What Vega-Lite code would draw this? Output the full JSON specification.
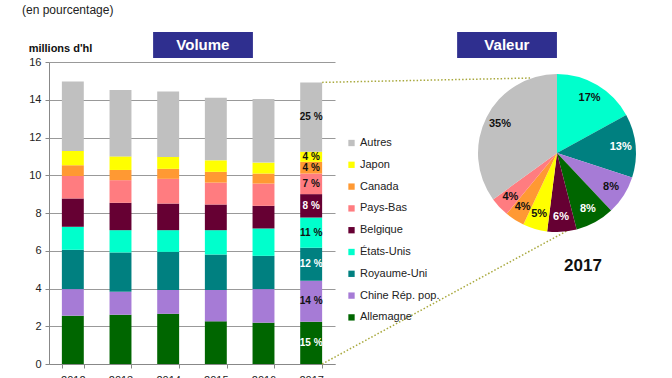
{
  "$schema": "https://vega.github.io/schema/vega-lite/v6.json",
  "padding": {"left": 22, "top": 3, "right": 5, "bottom": 0},
  "config": {
    "font": "Liberation Sans",
    "view": {"stroke": null}
  },
  "title": {"text": "(en pourcentage)", "anchor": "start", "frame": "group", "dx": -27, "offset": 15, "fontSize": 12, "fontWeight": "normal", "color": "#222"},
  "bounds": "flush",
  "spacing": 131,
  "resolve": {"scale": {"color": "independent"}, "legend": {"color": "independent"}},
  "datasets": {
    "volumes": [
      {"annee": "2012", "pays": "Allemagne", "rang": 1, "volume": 2.56, "etiquette": ""},
      {"annee": "2012", "pays": "Chine Rép. pop.", "rang": 2, "volume": 1.41, "etiquette": ""},
      {"annee": "2012", "pays": "Royaume-Uni", "rang": 3, "volume": 2.08, "etiquette": ""},
      {"annee": "2012", "pays": "États-Unis", "rang": 4, "volume": 1.22, "etiquette": ""},
      {"annee": "2012", "pays": "Belgique", "rang": 5, "volume": 1.5, "etiquette": ""},
      {"annee": "2012", "pays": "Pays-Bas", "rang": 6, "volume": 1.19, "etiquette": ""},
      {"annee": "2012", "pays": "Canada", "rang": 7, "volume": 0.57, "etiquette": ""},
      {"annee": "2012", "pays": "Japon", "rang": 8, "volume": 0.76, "etiquette": ""},
      {"annee": "2012", "pays": "Autres", "rang": 9, "volume": 3.68, "etiquette": ""},
      {"annee": "2013", "pays": "Allemagne", "rang": 1, "volume": 2.61, "etiquette": ""},
      {"annee": "2013", "pays": "Chine Rép. pop.", "rang": 2, "volume": 1.22, "etiquette": ""},
      {"annee": "2013", "pays": "Royaume-Uni", "rang": 3, "volume": 2.08, "etiquette": ""},
      {"annee": "2013", "pays": "États-Unis", "rang": 4, "volume": 1.18, "etiquette": ""},
      {"annee": "2013", "pays": "Belgique", "rang": 5, "volume": 1.45, "etiquette": ""},
      {"annee": "2013", "pays": "Pays-Bas", "rang": 6, "volume": 1.2, "etiquette": ""},
      {"annee": "2013", "pays": "Canada", "rang": 7, "volume": 0.54, "etiquette": ""},
      {"annee": "2013", "pays": "Japon", "rang": 8, "volume": 0.72, "etiquette": ""},
      {"annee": "2013", "pays": "Autres", "rang": 9, "volume": 3.51, "etiquette": ""},
      {"annee": "2014", "pays": "Allemagne", "rang": 1, "volume": 2.66, "etiquette": ""},
      {"annee": "2014", "pays": "Chine Rép. pop.", "rang": 2, "volume": 1.26, "etiquette": ""},
      {"annee": "2014", "pays": "Royaume-Uni", "rang": 3, "volume": 2.02, "etiquette": ""},
      {"annee": "2014", "pays": "États-Unis", "rang": 4, "volume": 1.15, "etiquette": ""},
      {"annee": "2014", "pays": "Belgique", "rang": 5, "volume": 1.41, "etiquette": ""},
      {"annee": "2014", "pays": "Pays-Bas", "rang": 6, "volume": 1.31, "etiquette": ""},
      {"annee": "2014", "pays": "Canada", "rang": 7, "volume": 0.53, "etiquette": ""},
      {"annee": "2014", "pays": "Japon", "rang": 8, "volume": 0.63, "etiquette": ""},
      {"annee": "2014", "pays": "Autres", "rang": 9, "volume": 3.47, "etiquette": ""},
      {"annee": "2015", "pays": "Allemagne", "rang": 1, "volume": 2.26, "etiquette": ""},
      {"annee": "2015", "pays": "Chine Rép. pop.", "rang": 2, "volume": 1.66, "etiquette": ""},
      {"annee": "2015", "pays": "Royaume-Uni", "rang": 3, "volume": 1.88, "etiquette": ""},
      {"annee": "2015", "pays": "États-Unis", "rang": 4, "volume": 1.29, "etiquette": ""},
      {"annee": "2015", "pays": "Belgique", "rang": 5, "volume": 1.36, "etiquette": ""},
      {"annee": "2015", "pays": "Pays-Bas", "rang": 6, "volume": 1.16, "etiquette": ""},
      {"annee": "2015", "pays": "Canada", "rang": 7, "volume": 0.57, "etiquette": ""},
      {"annee": "2015", "pays": "Japon", "rang": 8, "volume": 0.61, "etiquette": ""},
      {"annee": "2015", "pays": "Autres", "rang": 9, "volume": 3.32, "etiquette": ""},
      {"annee": "2016", "pays": "Allemagne", "rang": 1, "volume": 2.19, "etiquette": ""},
      {"annee": "2016", "pays": "Chine Rép. pop.", "rang": 2, "volume": 1.78, "etiquette": ""},
      {"annee": "2016", "pays": "Royaume-Uni", "rang": 3, "volume": 1.76, "etiquette": ""},
      {"annee": "2016", "pays": "États-Unis", "rang": 4, "volume": 1.45, "etiquette": ""},
      {"annee": "2016", "pays": "Belgique", "rang": 5, "volume": 1.2, "etiquette": ""},
      {"annee": "2016", "pays": "Pays-Bas", "rang": 6, "volume": 1.18, "etiquette": ""},
      {"annee": "2016", "pays": "Canada", "rang": 7, "volume": 0.53, "etiquette": ""},
      {"annee": "2016", "pays": "Japon", "rang": 8, "volume": 0.58, "etiquette": ""},
      {"annee": "2016", "pays": "Autres", "rang": 9, "volume": 3.37, "etiquette": ""},
      {"annee": "2017", "pays": "Allemagne", "rang": 1, "volume": 2.24, "etiquette": "15 %"},
      {"annee": "2017", "pays": "Chine Rép. pop.", "rang": 2, "volume": 2.17, "etiquette": "14 %"},
      {"annee": "2017", "pays": "Royaume-Uni", "rang": 3, "volume": 1.75, "etiquette": "12 %"},
      {"annee": "2017", "pays": "États-Unis", "rang": 4, "volume": 1.6, "etiquette": "11 %"},
      {"annee": "2017", "pays": "Belgique", "rang": 5, "volume": 1.24, "etiquette": "8 %"},
      {"annee": "2017", "pays": "Pays-Bas", "rang": 6, "volume": 1.09, "etiquette": "7 %"},
      {"annee": "2017", "pays": "Canada", "rang": 7, "volume": 0.62, "etiquette": "4 %"},
      {"annee": "2017", "pays": "Japon", "rang": 8, "volume": 0.54, "etiquette": "4 %"},
      {"annee": "2017", "pays": "Autres", "rang": 9, "volume": 3.67, "etiquette": "25 %"}
    ],
    "valeurs": [
      {"pays": "États-Unis", "rang": 1, "part": 17, "etiquette": "17%"},
      {"pays": "Royaume-Uni", "rang": 2, "part": 13, "etiquette": "13%"},
      {"pays": "Chine Rép. pop.", "rang": 3, "part": 8, "etiquette": "8%"},
      {"pays": "Allemagne", "rang": 4, "part": 8, "etiquette": "8%"},
      {"pays": "Belgique", "rang": 5, "part": 6, "etiquette": "6%"},
      {"pays": "Japon", "rang": 6, "part": 5, "etiquette": "5%"},
      {"pays": "Canada", "rang": 7, "part": 4, "etiquette": "4%"},
      {"pays": "Pays-Bas", "rang": 8, "part": 4, "etiquette": "4%"},
      {"pays": "Autres", "rang": 9, "part": 35, "etiquette": "35%"}
    ]
  },
  "hconcat": [
    {
      "width": 286,
      "height": 302,
      "resolve": {"scale": {"x": "independent", "y": "independent"}, "axis": {"x": "independent", "y": "independent"}},
      "layer": [
        {
          "data": {"name": "volumes"},
          "encoding": {
            "x": {"field": "annee", "type": "nominal", "scale": {"paddingInner": 0.54, "paddingOuter": 0.27},
              "axis": {"title": null, "labelAngle": 0, "tickBand": "extent", "labelFontSize": 11, "labelColor": "#222", "domainColor": "#888", "tickColor": "#888", "tickSize": 4, "labelPadding": 6}},
            "order": {"field": "rang", "type": "quantitative"}
          },
          "layer": [
            {
              "mark": {"type": "bar"},
              "encoding": {
                "y": {"field": "volume", "type": "quantitative", "stack": "zero", "scale": {"domain": [0, 16], "nice": false},
                  "axis": {"title": "millions d'hl", "titleAngle": 0, "titleAlign": "center", "titleBaseline": "middle", "titleX": 11, "titleY": -14, "titleFontSize": 11, "titleFontWeight": "bold", "titleColor": "#111",
                    "values": [0, 2, 4, 6, 8, 10, 12, 14, 16], "tickCount": 12, "labelOverlap": false, "grid": true, "gridColor": "#999", "domainColor": "#888", "tickColor": "#888", "tickSize": 4, "labelFontSize": 11, "labelColor": "#222", "labelPadding": 4}},
                "color": {"field": "pays", "type": "nominal",
                  "scale": {"domain": ["Autres", "Japon", "Canada", "Pays-Bas", "Belgique", "États-Unis", "Royaume-Uni", "Chine Rép. pop.", "Allemagne"],
                            "range": ["#C0C0C0", "#FFFF00", "#FF9933", "#FF7C80", "#660033", "#00FFCC", "#008080", "#A67BD6", "#006600"]},
                  "legend": {"title": null, "orient": "none", "legendX": 297, "legendY": 75.5, "symbolType": "square", "symbolSize": 40, "symbolStrokeWidth": 0, "symbolOpacity": 1, "labelFontSize": 11, "labelColor": "#222", "rowPadding": 9.8, "labelOffset": 3}}
              }
            },
            {
              "mark": {"type": "text", "fontSize": 10, "fontWeight": "bold"},
              "encoding": {
                "y": {"field": "volume", "type": "quantitative", "stack": "zero", "bandPosition": 0.5, "scale": {"domain": [0, 16], "nice": false}},
                "detail": {"field": "pays"},
                "text": {"field": "etiquette"},
                "color": {"condition": {"test": "datum.pays === 'Belgique' || datum.pays === 'Royaume-Uni' || datum.pays === 'Allemagne'", "value": "#ffffff"}, "value": "#111111"}
              }
            }
          ]
        },
        {
          "data": {"values": [{}]},
          "layer": [
            {
              "mark": {"type": "rect", "color": "#2F2F8F"},
              "encoding": {
                "x": {"datum": 0.364, "type": "quantitative", "scale": {"domain": [0, 1]}, "axis": null},
                "x2": {"datum": 0.713},
                "y": {"datum": 16.21, "type": "quantitative", "scale": {"domain": [0, 16]}, "axis": null},
                "y2": {"datum": 17.59}
              }
            },
            {
              "mark": {"type": "rect", "color": "#2F2F8F"},
              "encoding": {
                "x": {"datum": 1.427, "type": "quantitative", "axis": null},
                "x2": {"datum": 1.776},
                "y": {"datum": 16.21, "type": "quantitative", "axis": null},
                "y2": {"datum": 17.59}
              }
            },
            {
              "mark": {"type": "text", "color": "#ffffff", "fontSize": 15, "fontWeight": "bold"},
              "encoding": {
                "x": {"datum": 0.538, "type": "quantitative", "axis": null},
                "y": {"datum": 16.9, "type": "quantitative", "axis": null},
                "text": {"value": "Volume"}
              }
            },
            {
              "mark": {"type": "text", "color": "#ffffff", "fontSize": 15, "fontWeight": "bold"},
              "encoding": {
                "x": {"datum": 1.601, "type": "quantitative", "axis": null},
                "y": {"datum": 16.9, "type": "quantitative", "axis": null},
                "text": {"value": "Valeur"}
              }
            },
            {
              "mark": {"type": "rule", "color": "#A8A83C", "strokeWidth": 1.5, "strokeDash": [1.5, 2]},
              "encoding": {
                "x": {"datum": 0.955, "type": "quantitative", "axis": null},
                "y": {"datum": 14.92, "type": "quantitative", "axis": null},
                "x2": {"datum": 1.682},
                "y2": {"datum": 15.15}
              }
            },
            {
              "mark": {"type": "rule", "color": "#A8A83C", "strokeWidth": 1.5, "strokeDash": [1.5, 2]},
              "encoding": {
                "x": {"datum": 0.955, "type": "quantitative", "axis": null},
                "y": {"datum": 0, "type": "quantitative", "axis": null},
                "x2": {"datum": 1.829},
                "y2": {"datum": 7.2}
              }
            }
          ]
        }
      ]
    },
    {
      "width": 182,
      "height": 182,
      "data": {"name": "valeurs"},
      "title": {"text": "2017", "orient": "bottom", "fontSize": 17, "fontWeight": "bold", "color": "#111", "dx": 26, "offset": 14},
      "encoding": {
        "theta": {"field": "part", "type": "quantitative", "stack": true},
        "order": {"field": "rang", "type": "quantitative"}
      },
      "layer": [
        {
          "mark": {"type": "arc", "outerRadius": 79},
          "encoding": {
            "color": {"field": "pays", "type": "nominal",
              "scale": {"domain": ["Autres", "Japon", "Canada", "Pays-Bas", "Belgique", "États-Unis", "Royaume-Uni", "Chine Rép. pop.", "Allemagne"],
                        "range": ["#C0C0C0", "#FFFF00", "#FF9933", "#FF7C80", "#660033", "#00FFCC", "#008080", "#A67BD6", "#006600"]},
              "legend": null}
          }
        },
        {
          "mark": {"type": "text", "radius": 64, "fontSize": 11, "fontWeight": "bold"},
          "encoding": {
            "text": {"field": "etiquette"},
            "color": {"condition": {"test": "datum.pays === 'Belgique' || datum.pays === 'Royaume-Uni' || datum.pays === 'Allemagne'", "value": "#ffffff"}, "value": "#111111"}
          }
        }
      ]
    }
  ]
}
